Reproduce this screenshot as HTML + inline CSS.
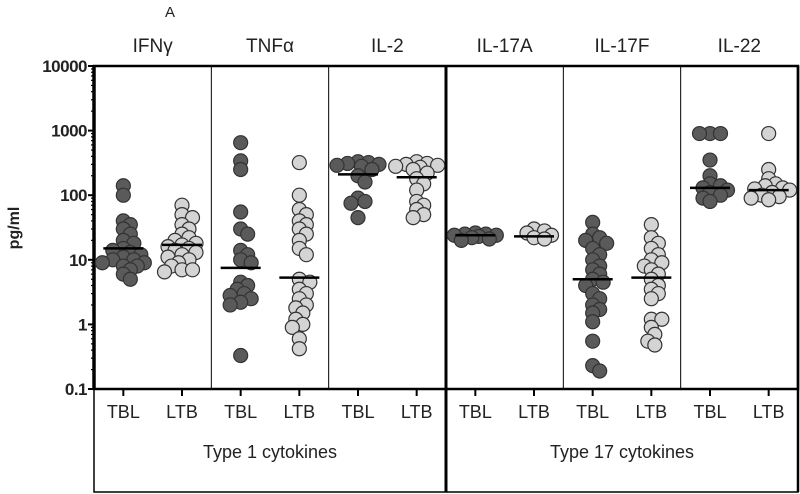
<!DOCTYPE html>
<html><head><meta charset="utf-8"><style>
body{margin:0;background:#fff}
svg{display:block;font-family:"Liberation Sans",Arial,sans-serif}
</style></head><body>
<svg id="chart" width="800" height="494" viewBox="0 0 800 494">
<text x="170" y="17" font-size="15" fill="#222" text-anchor="middle">A</text>
<g id="frame"></g>
<g id="marks"></g>
</svg>
<script>
const cytokines=["IFNγ","TNFα","IL-2","IL-17A","IL-17F","IL-22"];
const groupsLabels=["TBL","LTB"];
const yTicks=[0.1,1,10,100,1000,10000];
const yTickLabels=["0.1","1","10","100","1000","10000"];
const tblValues=[
 [140,100,40,35,30,25,20,18,15,14,13,12,11,10,10,9,9,8,8,7,6,5],
 [650,340,250,55,30,25,14,12,10,9,4.5,4,3.5,3,2.8,2.5,2.2,2,0.33],
 [330,320,310,300,290,280,250,200,160,90,80,75,45],
 [26,25,25,24,24,23,22,21,20],
 [38,25,22,20,18,15,12,10,8,7,6,5,4.5,4,3,2.5,2,1.7,1.5,1.1,0.55,0.23,0.19],
 [900,900,900,350,200,150,140,130,120,110,100,90,80]
];
const ltbValues=[
 [70,50,45,35,30,25,22,20,18,17,16,15,14,13,12,11,10,9,8,7,6.5,7],
 [320,100,60,50,40,35,30,25,20,15,12,5,4.5,3.5,3,2.5,2,1.8,1.5,1.2,1,0.9,0.6,0.42],
 [330,310,300,290,280,270,250,220,180,150,120,80,70,60,50,45],
 [30,28,26,24,22,21],
 [35,22,18,15,12,10,9,8,7,6,5,4,3.5,3,2.5,1.2,1.2,0.9,0.7,0.55,0.48],
 [900,250,180,150,140,130,125,120,110,100,95,90,85]
];
const tblMedians=[15,7.5,210,24,5,130];
const ltbMedians=[17,5.3,190,23,5.3,120];

const NS="http://www.w3.org/2000/svg";
const X0=94,X1=798,YT=66,YB=389,BOT=492;
const slot=(X1-X0)/12;
function xPos(c,g){return X0+slot*(c*2+g+0.5);}
function yPos(v){return YB-(Math.log10(v)+1)/5*(YB-YT);}
function mk(tag,attrs,parent){const e=document.createElementNS(NS,tag);for(const k in attrs)e.setAttribute(k,attrs[k]);parent.appendChild(e);return e;}
const frame=document.getElementById('frame'),marks=document.getElementById('marks');

for(let c=1;c<6;c++){
 const x=X0+slot*2*c;
 const l=mk('line',{x1:x,x2:x,y1:YT,y2:c===3?BOT:YB,stroke:'#000','stroke-width':c===3?3:1},frame);
 
 
}
const bx=mk('rect',{x:X0,y:YT,width:X1-X0,height:YB-YT,fill:'none',stroke:'#000','stroke-width':2.5},frame);

const bb=mk('path',{d:`M${X0} ${YB}V${BOT}H${X1}V${YB}`,fill:'none',stroke:'#000','stroke-width':1.5},frame);

mk('line',{x1:X0,x2:X0,y1:YT,y2:YB,stroke:'#000','stroke-width':3.5},frame);
mk('line',{x1:X1,x2:X1,y1:YT,y2:BOT,stroke:'#000','stroke-width':2.5},frame);
yTicks.forEach((v,i)=>{
 const y=yPos(v);
 mk('line',{x1:X0-6,x2:X0,y1:y,y2:y,stroke:'#000','stroke-width':2},frame);
 const t=mk('text',{x:X0-7,y:y+6,'font-size':17,'font-weight':'bold','text-anchor':'end',fill:'#222','letter-spacing':'-0.5'},frame);
 t.textContent=yTickLabels[i];
 
 if(i<yTicks.length-1){for(let m=2;m<10;m++){const ym=yPos(v*m);mk('line',{x1:X0-3,x2:X0,y1:ym,y2:ym,stroke:'#000','stroke-width':1.2},frame);}}
});
const yt=mk('text',{x:0,y:0,'font-size':16,'font-weight':'bold','text-anchor':'middle',fill:'#222',transform:`translate(19,228) rotate(-90)`},frame);
yt.textContent='pg/ml';
cytokines.forEach((n,c)=>{
 const h=mk('text',{x:(xPos(c,0)+xPos(c,1))/2,y:52,'font-size':19,'text-anchor':'middle',fill:'#222'},frame);
 h.textContent=n;
 groupsLabels.forEach((g,gi)=>{
  const x=xPos(c,gi);
  mk('line',{x1:x,x2:x,y1:YB,y2:YB+7,stroke:'#000','stroke-width':2},frame);
  const t=mk('text',{x:x,y:418,'font-size':18,'text-anchor':'middle',fill:'#222'},frame);
  t.textContent=g;
 });
});
[["Type 1 cytokines",0],["Type 17 cytokines",1]].forEach(([s,i])=>{
 const t=mk('text',{x:(xPos(i*3,0)+xPos(i*3+2,1))/2,y:458,'font-size':18,'text-anchor':'middle',fill:'#222'},frame);
 t.textContent=s;
});
const R=7;
function swarm(vals,cx){
 const placed=[];
 vals.slice().sort((a,b)=>b-a).forEach(v=>{
  const y=yPos(v);
  let best=null,bestD=-1;
  for(let k=0;k<13;k++){
   const off=(k%2?1:-1)*Math.ceil(k/2)*3.5;
   const x=cx+off;
   const d=placed.length?Math.min(...placed.map(p=>Math.hypot(p[0]-x,p[1]-y))):99;
   if(d>=R*1.1){best=[x,y];break;}
   if(d>bestD){bestD=d;best=[x,y];}
  }
  placed.push(best);
 });
 return placed;
}
cytokines.forEach((n,c)=>{
 [[tblValues[c],tblMedians[c],'#5a5a5a',0],[ltbValues[c],ltbMedians[c],'#d4d4d4',1]].forEach(([vals,med,fill,g])=>{
  const cx=xPos(c,g);
  swarm(vals,cx).forEach(p=>{
   const e=mk('circle',{cx:p[0],cy:p[1],r:R,fill:fill,stroke:'#333','stroke-width':1.2},marks);
   
   
  });
  const y=yPos(med);
  const m=mk('line',{x1:cx-20,x2:cx+20,y1:y,y2:y,stroke:'#000','stroke-width':2.5},marks);
  
  
 });
});
</script>
</body></html>
